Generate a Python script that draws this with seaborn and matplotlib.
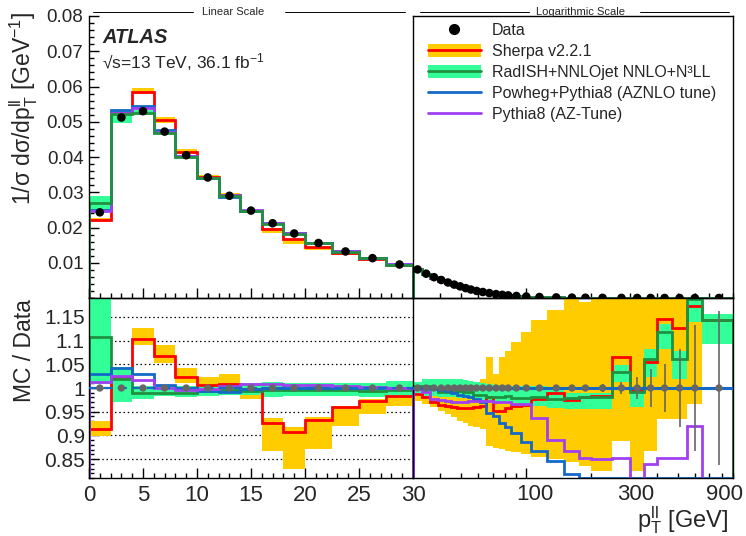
import numpy as np
import pandas as pd
import matplotlib
matplotlib.use("Agg")
import matplotlib.pyplot as plt
import matplotlib.transforms as mtransforms
from matplotlib.lines import Line2D
from matplotlib.patches import Patch
from matplotlib.ticker import FixedLocator, MultipleLocator, NullFormatter
import seaborn as sns

nan = np.nan

# ---------------- data ----------------
lin_edges = [0, 2, 4, 6, 8, 10, 12, 14, 16, 18, 20, 22.5, 25, 27.5, 30]
log_edges = [30, 33, 36, 39, 42, 45, 48, 51, 54, 57, 61, 65, 70, 75, 80, 85, 95,
             105, 125, 150, 175, 200, 250, 300, 350, 400, 470, 550, 650, 900]

data_lin = [0.0243, 0.0512, 0.0530, 0.0472, 0.0405, 0.0342, 0.0290, 0.0248,
            0.0212, 0.0183, 0.0156, 0.0132, 0.0113, 0.0095]
data_log = [0.0081, 0.0069, 0.0059, 0.0051, 0.0044, 0.0038, 0.0033, 0.0028, 0.0024, 0.0020,
            0.0017, 0.0014, 0.0011, 0.0009, 0.00075, 0.00058, 0.00042, 0.00028, 0.00017, 0.00011,
            7e-5, 4e-5, 2e-5, 1.1e-5, 6.5e-6, 3.8e-6, 2.1e-6, 1.1e-6, 4e-7]

# ratios MC / Data, linear region
sherpa_lin = [0.913, 1.023, 1.104, 1.067, 1.023, 1.007, 1.008, 0.998, 0.926, 0.908, 0.933, 0.960, 0.973, 0.984]
sherpa_lin_lo = [0.899, 1.013, 1.090, 1.053, 1.011, 1.004, 0.998, 0.977, 0.866, 0.830, 0.872, 0.920, 0.945, 0.963]
sherpa_lin_hi = [0.931, 1.033, 1.126, 1.090, 1.042, 1.023, 1.030, 1.007, 0.936, 0.918, 0.938, 0.963, 0.977, 0.990]
radish_lin = [1.107, 1.020, 0.989, 0.989, 0.989, 0.994, 0.996, 0.994, 0.996, 0.996, 0.996, 0.996, 0.993, 0.996]
radish_lin_lo = [1.008, 0.971, 0.977, 0.984, 0.980, 0.984, 0.986, 0.986, 0.982, 0.983, 0.983, 0.983, 0.982, 0.984]
radish_lin_hi = [1.195, 1.044, 1.005, 1.006, 1.005, 1.006, 1.008, 1.010, 1.012, 1.010, 1.010, 1.010, 1.010, 1.014]
powheg_lin = [1.030, 1.042, 1.030, 1.007, 0.998, 0.994, 0.992, 0.998, 1.001, 1.001, 1.001, 1.001, 1.001, 1.001]
pythia_lin = [1.013, 1.026, 1.016, 0.999, 0.996, 0.998, 1.004, 1.008, 1.008, 1.007, 1.007, 1.005, 1.003, 1.001]
data_err_lin = [0.003, 0.002, 0.002, 0.002, 0.002, 0.002, 0.002, 0.002, 0.002, 0.002, 0.002, 0.002, 0.002, 0.002]

# ratios MC / Data, logarithmic region
sherpa_log = [0.987, 0.980, 0.970, 0.965, 0.962, 0.960, 0.958, 0.958, 0.958, 0.960,
              0.962, 0.980, 0.952, 0.952, 0.958, 0.961, 0.964, 0.977, 0.989, 0.975,
              0.980, 0.984, 1.065, 0.995, 1.054, 1.146, 1.126, 1.174, 1.143]
sherpa_log_lo = [0.972, 0.966, 0.959, 0.952, 0.945, 0.938, 0.931, 0.926, 0.920, 0.917,
                 0.913, 0.878, 0.874, 0.871, 0.867, 0.864, 0.860, 0.855, 0.850, 0.843,
                 0.835, 0.825, 0.888, 0.825, 0.867, 0.934, 0.934, 0.966, nan]
sherpa_log_hi = [0.995, 0.992, 0.985, 0.982, 0.980, 0.980, 0.980, 0.985, 0.990, 0.995,
                 1.020, 1.065, 1.030, 1.065, 1.079, 1.097, 1.118, 1.143, 1.164, 1.189,
                 1.181, 1.200, 1.200, 1.200, 1.200, 1.200, 1.200, 1.200, nan]
radish_log = [1.004, 1.004, 1.001, 0.991, 0.991, 0.992, 0.993, 0.991, 0.991, 0.986,
              0.986, 0.980, 0.980, 0.981, 0.983, 0.978, 0.978, 0.982, 0.977, 0.978,
              0.980, 0.982, 1.033, 0.991, 1.061, 1.118, 1.061, 1.187, 1.143]
radish_log_lo = [0.986, 0.984, 0.983, 0.982, 0.980, 0.980, 0.979, 0.978, 0.976, 0.975,
                 0.973, 0.972, 0.971, 0.970, 0.970, 0.968, 0.966, 0.962, 0.958, 0.955,
                 0.955, 0.955, 1.012, 0.959, 1.023, 1.083, 1.019, 1.139, 1.093]
radish_log_hi = [1.012, 1.020, 1.020, 1.019, 1.019, 1.018, 1.018, 1.016, 1.014, 1.012,
                 1.010, 1.008, 1.006, 1.006, 1.005, 1.004, 1.004, 1.004, 0.995, 0.990,
                 0.990, 0.990, 1.049, 0.994, 1.083, 1.136, 1.079, 1.195, 1.157]
powheg_log = [1.000, 0.999, 0.998, 0.996, 0.993, 0.989, 0.986, 0.984, 0.980, 0.977,
              0.970, 0.948, 0.941, 0.927, 0.917, 0.906, 0.885, 0.867, 0.846, 0.818,
              0.810, 0.810, 0.810, 0.810, 0.810, 0.810, 0.810, 0.810, 0.810]
pythia_log = [0.998, 0.991, 0.977, 0.975, 0.972, 0.970, 0.970, 0.970, 0.973, 0.973,
              0.973, 0.972, 0.970, 0.970, 0.970, 0.966, 0.966, 0.936, 0.890, 0.866,
              0.852, 0.850, 0.853, 0.805, 0.840, 0.852, 0.853, 0.920, 0.800]
data_err_log = [0.002, 0.002, 0.002, 0.002, 0.002, 0.002, 0.002, 0.002, 0.002, 0.002,
                0.002, 0.002, 0.003, 0.003, 0.003, 0.003, 0.004, 0.004, 0.005, 0.006,
                0.007, 0.008, 0.013, 0.023, 0.040, 0.050, 0.082, 0.132, 0.162]

top_yticks = [0.01, 0.02, 0.03, 0.04, 0.05, 0.06, 0.07, 0.08]
top_yticklabels = ["0.01", "0.02", "0.03", "0.04", "0.05", "0.06", "0.07", "0.08"]
ratio_yticks = [0.85, 0.90, 0.95, 1.00, 1.05, 1.10, 1.15]
ratio_yticklabels = ["0.85", "0.9", "0.95", "1", "1.05", "1.1", "1.15"]
lin_xticks = [0, 5, 10, 15, 20, 25, 30]
lin_xticklabels = ["0", "5", "10", "15", "20", "25", "30"]
log_xlabel_vals = [100, 300, 900]
log_xlabel_text = ["100", "300", "900"]
log_minor = [40, 50, 60, 70, 80, 90, 200, 300, 400, 500, 600, 700, 800, 900]

legend_labels = ["Data", "Sherpa v2.2.1", "RadISH+NNLOjet NNLO+N³LL",
                 "Powheg+Pythia8 (AZNLO tune)", "Pythia8 (AZ-Tune)"]

# ---------------- style ----------------
sns.set_theme(style="ticks")
plt.rcParams["font.family"] = ["Liberation Sans", "DejaVu Sans"]
plt.rcParams["mathtext.fontset"] = "custom"
plt.rcParams["mathtext.rm"] = "Liberation Sans"
plt.rcParams["mathtext.it"] = "Liberation Sans:italic"
plt.rcParams["mathtext.bf"] = "Liberation Sans:bold"
plt.rcParams["axes.linewidth"] = 1.0
plt.rcParams["axes.edgecolor"] = "black"
plt.rcParams["xtick.direction"] = "in"
plt.rcParams["ytick.direction"] = "in"

YEL = "#ffcc00"
RED = "#ff0000"
LGR = "#33ff99"
DGR = "#1f9140"
BLU = "#1469c7"
PUR = "#a040f0"
GRY = "#666666"
LW = 2.0

W, H = 746, 536
fig = plt.figure(figsize=(W / 100, H / 100), dpi=100)
fig.patch.set_facecolor("white")


def rect(x0, y0, x1, y1):
    return [x0 / W, 1 - y1 / H, (x1 - x0) / W, (y1 - y0) / H]


XL, XM, XR = 89, 413, 733
YT, YM, YB = 16, 298, 478
ax_tl = fig.add_axes(rect(XL, YT, XM, YM))
ax_tr = fig.add_axes(rect(XM, YT, XR, YM))
ax_bl = fig.add_axes(rect(XL, YM, XM, YB))
ax_br = fig.add_axes(rect(XM, YM, XR, YB))

lin_e = np.array(lin_edges, float)
log_e = np.array(log_edges, float)
lin_c = 0.5 * (lin_e[:-1] + lin_e[1:])
log_c = 0.5 * (log_e[:-1] + log_e[1:])

regions = [
    dict(top=ax_tl, bot=ax_bl, e=lin_e, c=lin_c, data=np.array(data_lin),
         sh=np.array(sherpa_lin), shlo=np.array(sherpa_lin_lo), shhi=np.array(sherpa_lin_hi),
         ra=np.array(radish_lin), ralo=np.array(radish_lin_lo), rahi=np.array(radish_lin_hi),
         pw=np.array(powheg_lin), py=np.array(pythia_lin), err=np.array(data_err_lin)),
    dict(top=ax_tr, bot=ax_br, e=log_e, c=log_c, data=np.array(data_log),
         sh=np.array(sherpa_log), shlo=np.array(sherpa_log_lo), shhi=np.array(sherpa_log_hi),
         ra=np.array(radish_log), ralo=np.array(radish_log_lo), rahi=np.array(radish_log_hi),
         pw=np.array(powheg_log), py=np.array(pythia_log), err=np.array(data_err_log)),
]

for r in regions:
    e = r["e"]
    w = np.diff(e)
    d = r["data"]
    # ---- top panel ----
    at = r["top"]
    at.bar(e[:-1], d * (r["shhi"] - r["shlo"]), width=w, bottom=d * r["shlo"], align="edge",
           color=YEL, lw=0, zorder=1)
    at.bar(e[:-1], d * (r["rahi"] - r["ralo"]), width=w, bottom=d * r["ralo"], align="edge",
           color=LGR, lw=0, zorder=1.1)
    at.stairs(d * r["sh"], e, baseline=0, color=RED, lw=LW, zorder=2)
    at.stairs(d * r["pw"], e, baseline=0, color=BLU, lw=LW, zorder=2.1)
    at.stairs(d * r["py"], e, baseline=0, color=PUR, lw=LW, zorder=2.2)
    at.stairs(d * r["ra"], e, baseline=0, color=DGR, lw=LW, zorder=2.3)
    sns.scatterplot(x=r["c"], y=d, ax=at, color="black", s=38, edgecolor="none",
                    zorder=5, legend=False)
    # ---- ratio panel ----
    ab = r["bot"]
    ab.bar(e[:-1], r["shhi"] - r["shlo"], width=w, bottom=r["shlo"], align="edge",
           color=YEL, lw=0, zorder=1)
    ab.bar(e[:-1], r["rahi"] - r["ralo"], width=w, bottom=r["ralo"], align="edge",
           color=LGR, lw=0, zorder=1.1)
    ab.stairs(r["sh"], e, baseline=0, color=RED, lw=LW, zorder=2)
    ab.stairs(r["ra"], e, baseline=0, color=DGR, lw=LW, zorder=2.1)
    ab.stairs(r["pw"], e, baseline=0, color=BLU, lw=LW, zorder=2.2)
    ab.stairs(r["py"], e, baseline=0, color=PUR, lw=LW, zorder=2.3)
    ab.errorbar(r["c"], np.ones_like(r["c"]), yerr=r["err"], fmt="none", ecolor=GRY,
                elinewidth=1.2, zorder=4)
    sns.scatterplot(x=r["c"], y=np.ones_like(r["c"]), ax=ab, color=GRY, s=28,
                    edgecolor="none", zorder=5, legend=False)
    ab.set_ylim(0.81, 1.19)
    ab.yaxis.grid(True, linestyle=(0, (1.2, 2.2)), color="black", lw=0.9, zorder=0)
    ab.set_axisbelow(True)

ax_bl.axhline(1.0, color=BLU, lw=1.6, ls=(0, (4, 2.5)), zorder=3)
ax_br.axhline(1.0, color=BLU, lw=2.2, zorder=3)

# ---------------- axes setup ----------------
for ax in (ax_tl, ax_bl):
    ax.set_xlim(0, 30)
    ax.xaxis.set_major_locator(FixedLocator(lin_xticks))
    ax.xaxis.set_minor_locator(MultipleLocator(1))
for ax in (ax_tr, ax_br):
    ax.set_xscale("log")
    ax.set_xlim(30, 900)
    ax.xaxis.set_major_locator(FixedLocator([100]))
    ax.xaxis.set_minor_locator(FixedLocator(log_minor))
    ax.xaxis.set_major_formatter(NullFormatter())
    ax.xaxis.set_minor_formatter(NullFormatter())
    ax.set_yticks([])
    ax.tick_params(axis="y", which="both", left=False, right=False, labelleft=False)

ax_tl.set_ylim(0, 0.08)
ax_tr.set_ylim(0, 0.08)
ax_tl.set_yticks(top_yticks)
ax_tl.set_yticklabels(top_yticklabels)
ax_tl.yaxis.set_minor_locator(MultipleLocator(0.002))
ax_tl.tick_params(axis="x", labelbottom=False)
ax_tl.spines["top"].set_visible(False)
ax_tl.spines["right"].set_visible(False)

ax_bl.set_yticks(ratio_yticks)
ax_bl.set_yticklabels(ratio_yticklabels)
ax_bl.yaxis.set_minor_locator(MultipleLocator(0.01))
ax_bl.set_xticklabels(lin_xticklabels)
ax_bl.spines["right"].set_visible(False)

for ax in (ax_tl, ax_tr, ax_bl, ax_br):
    ax.tick_params(which="major", direction="in", length=7, width=1.0, color="black")
    ax.tick_params(which="minor", direction="in", length=3.5, width=1.0, color="black")
    ax.tick_params(axis="x", which="both", top=False)
    ax.set_facecolor("none")
    for s in ax.spines.values():
        s.set_linewidth(1.0)
        s.set_color("black")
    ax.set_xlabel("")
    ax.set_ylabel("")

ax_tl.tick_params(axis="y", which="both", right=False, labelsize=13.5, pad=4)
ax_bl.tick_params(axis="y", which="both", right=False, labelsize=15, pad=3)
ax_bl.tick_params(axis="x", which="major", labelsize=16, pad=5)
ax_tr.set_zorder(3)
ax_br.set_zorder(3)

# log-axis labels (ROOT-style placement)
trans_br = mtransforms.blended_transform_factory(ax_br.transData, ax_br.transAxes)
for v, t, dx in zip(log_xlabel_vals, log_xlabel_text, [9, 6, -9]):
    ax_br.text(v, 0, t, ha="center", va="top", fontsize=16,
               transform=trans_br + mtransforms.ScaledTranslation(dx / 100, -6 / 100, fig.dpi_scale_trans))

# ---------------- texts ----------------
fig.text(24 / W, 1 - 12 / H, r"1/σ dσ/d$\mathrm{p}_{\mathrm{T}}^{\mathrm{ll}}$ [GeV$^{\mathrm{-1}}$]",
         rotation=90, ha="center", va="top", fontsize=16.5)
fig.text(25 / W, 1 - 299 / H, "MC / Data", rotation=90, ha="center", va="top", fontsize=16.5)
fig.text(728 / W, 1 - 520 / H, r"$\mathrm{p}_{\mathrm{T}}^{\mathrm{ll}}$ [GeV]",
         ha="right", va="center", fontsize=17)
fig.text(102 / W, 1 - 43 / H, "ATLAS", fontsize=14.5, fontweight="bold", fontstyle="italic",
         ha="left", va="baseline")
fig.text(102 / W, 1 - 68 / H, r"√s=13 TeV, 36.1 fb$^{\mathrm{-1}}$", fontsize=12.5,
         ha="left", va="baseline")

fig.text(233 / W, 1 - 12 / H, "Linear Scale", fontsize=8, ha="center", va="center")
fig.text(581 / W, 1 - 12 / H, "Logarithmic Scale", fontsize=8, ha="center", va="center")
for x0, x1 in [(93, 193), (285, 405), (420, 529), (640, 729)]:
    fig.add_artist(Line2D([x0 / W, x1 / W], [1 - 12 / H, 1 - 12 / H], color="black", lw=0.7,
                          transform=fig.transFigure))

# ---------------- legend ----------------
handles = [
    Line2D([], [], marker="o", color="black", linestyle="none", markersize=7),
    (Patch(facecolor=YEL, edgecolor="none"), Line2D([], [], color=RED, lw=LW)),
    (Patch(facecolor=LGR, edgecolor="none"), Line2D([], [], color=DGR, lw=LW)),
    Line2D([], [], color=BLU, lw=LW),
    Line2D([], [], color=PUR, lw=LW),
]
fig.legend(handles, legend_labels, loc="upper left", bbox_to_anchor=(428 / W, 1 - 23 / H),
           bbox_transform=fig.transFigure, frameon=False, fontsize=11.5,
           handlelength=3.3, handletextpad=0.7, labelspacing=0.38, borderpad=0,
           borderaxespad=0, handleheight=0.8)

fig.savefig("out.png", dpi=100, facecolor="white")
